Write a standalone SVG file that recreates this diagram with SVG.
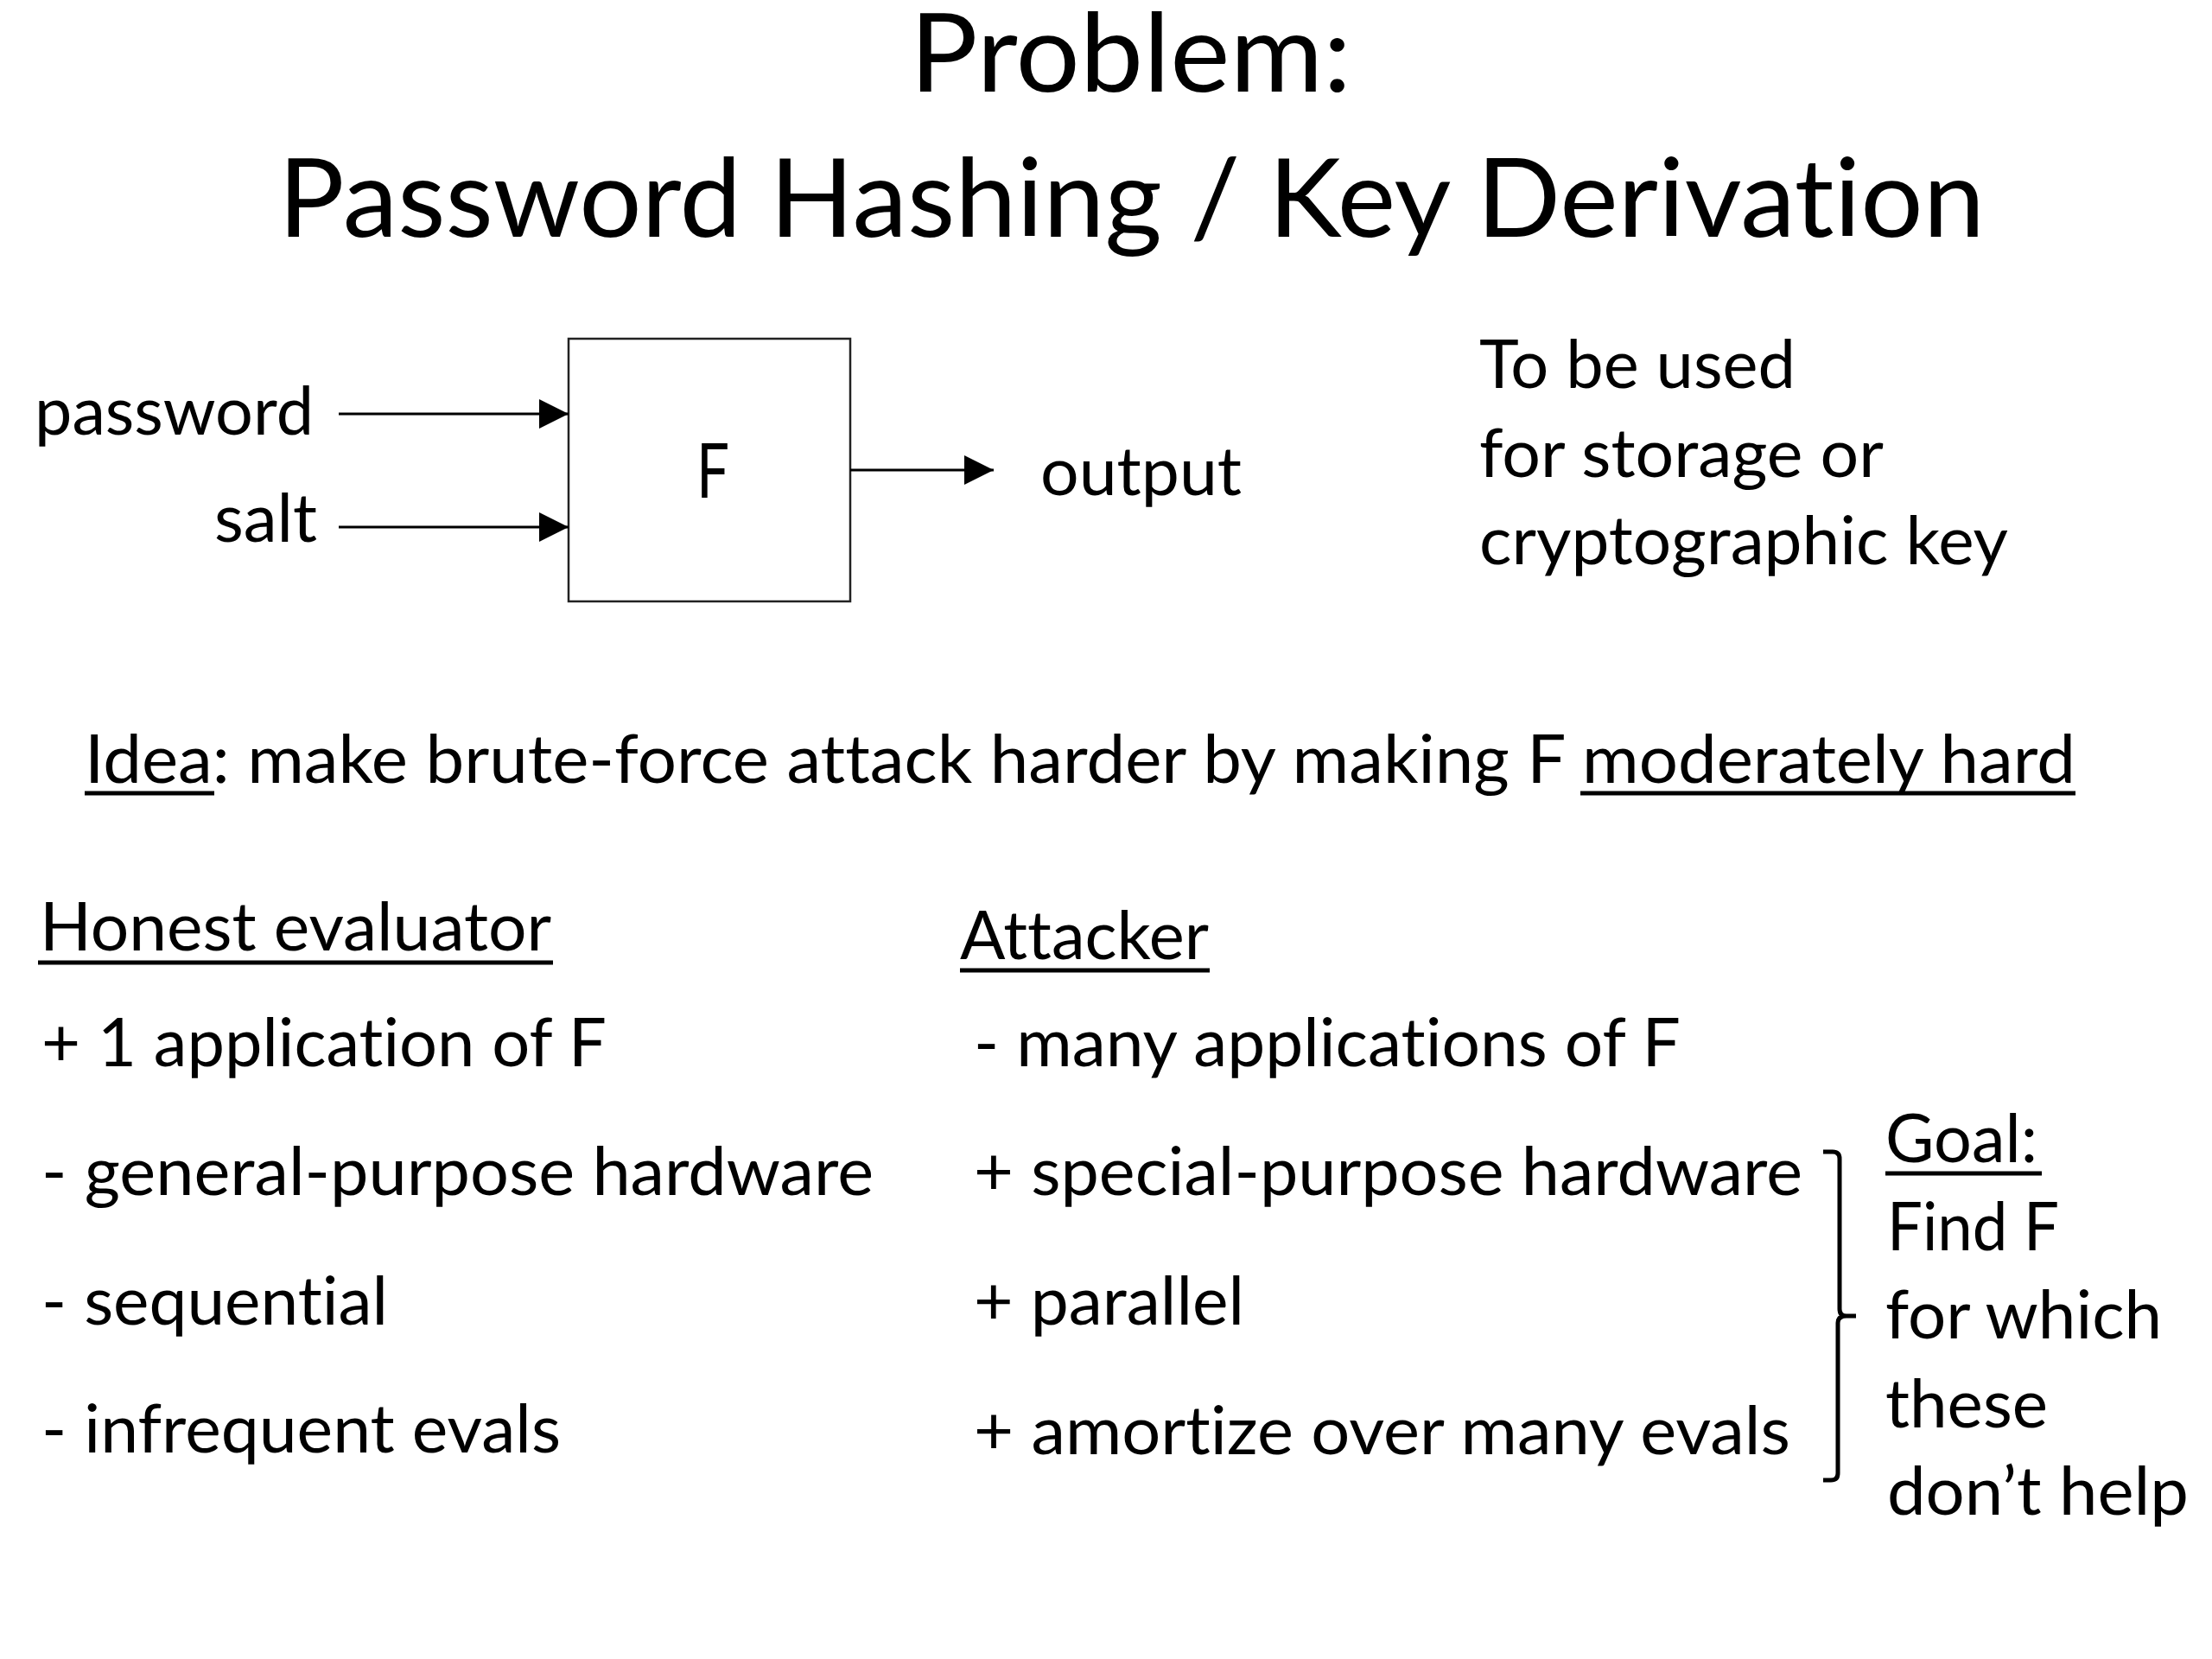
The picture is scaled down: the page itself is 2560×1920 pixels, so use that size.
<svg xmlns="http://www.w3.org/2000/svg" width="2560" height="1920" viewBox="0 0 2560 1920">
<defs>
<style>
text{font-family:Lato,"Open Sans","Liberation Sans",sans-serif;fill:#000;font-variant-ligatures:none;font-feature-settings:"liga" 0,"clig" 0}
.t{font-size:126px}
.b{font-size:78px}
.ul{stroke:#000;stroke-width:5}
.conn{stroke:#000;stroke-width:3;fill:none}
</style>
<marker id="ah" markerUnits="userSpaceOnUse" markerWidth="36" markerHeight="36" refX="34" refY="17" orient="auto">
<path d="M0,0 L34,17 L0,34 z" fill="#000"/>
</marker>
</defs>
<rect width="2560" height="1920" fill="#fff"/>

<g id="title">
<text class="t" x="1053" y="106" textLength="511" lengthAdjust="spacingAndGlyphs">Problem:</text>
<text class="t" x="322" y="274" textLength="1975" lengthAdjust="spacingAndGlyphs">Password Hashing / Key Derivation</text>
</g>

<g id="input-password">
<text class="b" x="40" y="503" textLength="323" lengthAdjust="spacingAndGlyphs">password</text>
</g>
<g id="input-salt">
<text class="b" x="248" y="627" textLength="119" lengthAdjust="spacingAndGlyphs">salt</text>
</g>
<g id="node-F">
<rect x="658" y="392" width="326" height="304" fill="#fff" stroke="#222" stroke-width="2.5"/>
<text x="806" y="576" font-size="88" textLength="38" lengthAdjust="spacingAndGlyphs">F</text>
</g>
<g id="output">
<text class="b" x="1204" y="573" textLength="233" lengthAdjust="spacingAndGlyphs">output</text>
</g>
<g id="usage-note">
<text class="b" x="1712" y="449" textLength="366" lengthAdjust="spacingAndGlyphs">To be used</text>
<text class="b" x="1712" y="552" textLength="468" lengthAdjust="spacingAndGlyphs">for storage or</text>
<text class="b" x="1712" y="653" textLength="612" lengthAdjust="spacingAndGlyphs">cryptographic key</text>
</g>

<g id="connectors">
<line class="conn" x1="392" y1="479" x2="658" y2="479" marker-end="url(#ah)"/>
<line class="conn" x1="392" y1="610" x2="658" y2="610" marker-end="url(#ah)"/>
<line class="conn" x1="984" y1="544" x2="1150" y2="544" marker-end="url(#ah)"/>
</g>

<g id="idea">
<text class="b" x="98" y="906" textLength="2304" lengthAdjust="spacingAndGlyphs">Idea: make brute-force attack harder by making F moderately hard</text>
<line class="ul" x1="98" y1="918" x2="248" y2="918"/>
<line class="ul" x1="1829" y1="918" x2="2402" y2="918"/>
</g>

<g id="honest">
<text class="b" x="46" y="1100" textLength="592" lengthAdjust="spacingAndGlyphs">Honest evaluator</text>
<line class="ul" x1="44" y1="1114" x2="640" y2="1114"/>
<text class="b" x="48" y="1234" textLength="654" lengthAdjust="spacingAndGlyphs">+ 1 application of F</text>
<text class="b" x="48" y="1383" textLength="963" lengthAdjust="spacingAndGlyphs">- general-purpose hardware</text>
<text class="b" x="48" y="1533" textLength="401" lengthAdjust="spacingAndGlyphs">- sequential</text>
<text class="b" x="48" y="1681" textLength="601" lengthAdjust="spacingAndGlyphs">- infrequent evals</text>
</g>

<g id="attacker">
<text class="b" x="1111" y="1110" textLength="288" lengthAdjust="spacingAndGlyphs">Attacker</text>
<line class="ul" x1="1111" y1="1123" x2="1400" y2="1123"/>
<text class="b" x="1127" y="1234" textLength="818" lengthAdjust="spacingAndGlyphs">- many applications of F</text>
<text class="b" x="1127" y="1383" textLength="959" lengthAdjust="spacingAndGlyphs">+ special-purpose hardware</text>
<text class="b" x="1127" y="1533" textLength="313" lengthAdjust="spacingAndGlyphs">+ parallel</text>
<text class="b" x="1127" y="1683" textLength="945" lengthAdjust="spacingAndGlyphs">+ amortize over many evals</text>
</g>

<g id="brace">
<path d="M2110,1333 L2121,1333 Q2129,1333 2129,1341 L2129,1515 Q2129,1523 2137,1523 L2148,1523 M2137,1523 Q2127,1523 2127,1531 L2127,1705 Q2127,1713 2119,1713 L2110,1713" fill="none" stroke="#000" stroke-width="5"/>
</g>

<g id="goal">
<text class="b" x="2182" y="1345" textLength="176" lengthAdjust="spacingAndGlyphs">Goal:</text>
<line class="ul" x1="2182" y1="1358" x2="2363" y2="1358"/>
<text class="b" x="2184" y="1447" textLength="199" lengthAdjust="spacingAndGlyphs">Find F</text>
<text class="b" x="2182" y="1549" textLength="320" lengthAdjust="spacingAndGlyphs">for which</text>
<text class="b" x="2182" y="1652" textLength="188" lengthAdjust="spacingAndGlyphs">these</text>
<text class="b" x="2184" y="1753" textLength="349" lengthAdjust="spacingAndGlyphs">don’t help</text>
</g>
</svg>
